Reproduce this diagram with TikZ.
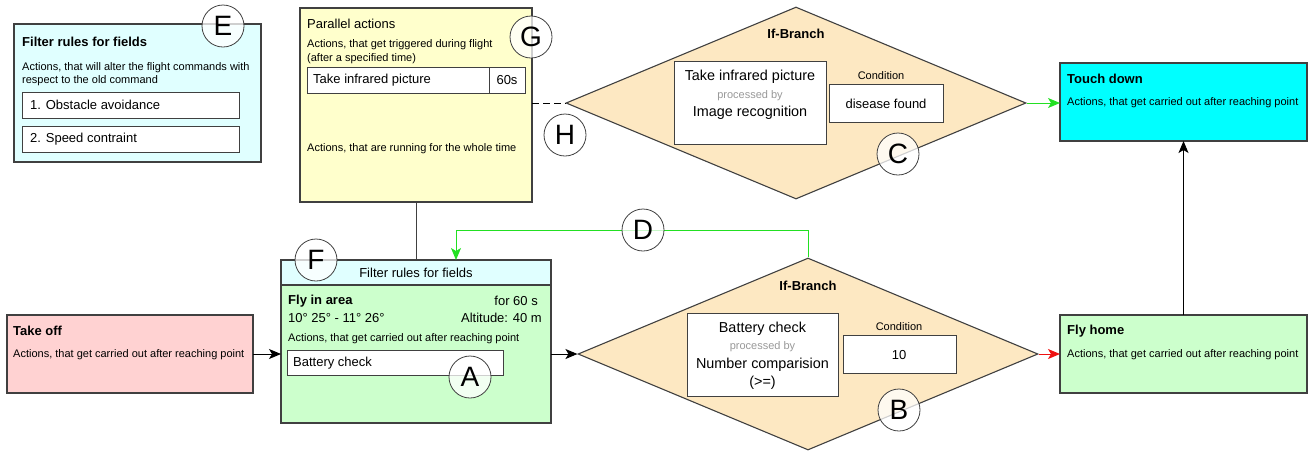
\documentclass[tikz,border=0pt]{standalone}
\usepackage{fontspec}
\setmainfont{Liberation Sans}
\usetikzlibrary{arrows.meta,shapes.geometric}
\definecolor{bcol}{HTML}{404040}
\definecolor{ecyan}{HTML}{E0FFFF}
\definecolor{gyellow}{HTML}{FFFFCC}
\definecolor{dfill}{HTML}{FDE8C2}
\definecolor{tcyan}{HTML}{00FFFF}
\definecolor{lgreen}{HTML}{CCFFCC}
\definecolor{lpink}{HTML}{FFD2D2}
\definecolor{agreen}{HTML}{22E022}
\definecolor{ared}{HTML}{EE1111}
\definecolor{procgray}{HTML}{999999}
\newcommand{\fsz}[1]{\fontsize{#1}{#1}\selectfont}
\tikzset{
  box/.style={draw=bcol, line width=1.1pt, anchor=north west, inner sep=0pt, outer sep=0pt},
  wbox/.style={box, fill=white, line width=1pt},
  txt/.style={anchor=west, inner sep=0pt, font=\fsz{11}},
  big/.style={inner sep=0pt, font=\fsz{13}},
  huge/.style={inner sep=0pt, font=\fsz{14.4}},
  ttl/.style={anchor=west, inner sep=0pt, font=\fsz{13}\bfseries},
  dia/.style={diamond, draw=bcol, line width=1.1pt, fill=dfill, minimum width=460pt, minimum height=192pt, inner sep=0pt},
  lettermark/.style={circle, draw=bcol, line width=0.8pt, fill=white, fill opacity=0.75, text opacity=1, minimum size=42pt, inner sep=0pt, font=\fsz{28}},
  arr/.style={line width=1pt, -{Stealth[length=12pt,width=10pt,inset=3pt]}},
}
\begin{document}
\begin{tikzpicture}[x=1pt,y=-1pt]
\useasboundingbox (0,0) rectangle (1313,451);
% ---- E box
\node[box, fill=ecyan, minimum width=247pt, minimum height=138pt] (ebox) at (14,24) {};
\node[ttl] (etitle) at (22,42) {Filter rules for fields};
\node[txt] (et1) at (22,68) {Actions, that will alter the flight commands with};
\node[txt] (et2) at (22,81) {respect to the old command};
\node[wbox, minimum width=217pt, minimum height=26pt] (eb1) at (22,92) {};
\node[big, anchor=west] (eb1t) at (30,105) {1. Obstacle avoidance};
\node[wbox, minimum width=217pt, minimum height=26pt] (eb2) at (22,126) {};
\node[big, anchor=west] (eb2t) at (30,139) {2. Speed contraint};
% ---- G box
\node[box, fill=gyellow, minimum width=232pt, minimum height=194pt] (gbox) at (300,8) {};
\node[big, anchor=west] (gtitle) at (307,24) {Parallel actions};
\node[txt] (gt1) at (307,45) {Actions, that get triggered during flight};
\node[txt] (gt2) at (307,59) {(after a specified time)};
\node[wbox, minimum width=218pt, minimum height=26pt] (tip) at (307,67) {};
\draw[bcol, line width=1pt] (489,67) -- (489,93);
\node[big, anchor=west] (tipt) at (313,80) {Take infrared picture};
\node[big] (tips) at (507,80) {60s};
\node[txt] (gt3) at (307,149) {Actions, that are running for the whole time};
% ---- top diamond
\node[dia] (dtop) at (796,103) {};
\node[inner sep=0pt, font=\fsz{13}\bfseries] (dtopt) at (796,34) {If-Branch};
\node[wbox, minimum width=152pt, minimum height=83pt] (dtopin) at (674,61) {};
\node[huge] (dt1) at (750,77) {Take infrared picture};
\node[inner sep=0pt, font=\fsz{11}, text=procgray] (dt2) at (750,96) {processed by};
\node[huge] (dt3) at (750,113) {Image recognition};
\node[inner sep=0pt, font=\fsz{11}] (dtc) at (881,76) {Condition};
\node[wbox, minimum width=114pt, minimum height=38pt] (dtcb) at (829,84) {};
\node[big] (dtcv) at (886,104) {disease found};
% ---- Touch down
\node[box, fill=tcyan, minimum width=247pt, minimum height=78pt] (touch) at (1060,63) {};
\node[ttl] (toucht) at (1067,79) {Touch down};
\node[txt] (touchx) at (1067,103) {Actions, that get carried out after reaching point};
% ---- Fly home
\node[box, fill=lgreen, minimum width=247pt, minimum height=78pt] (home) at (1060,315) {};
\node[ttl] (homet) at (1067,331) {Fly home};
\node[txt] (homex) at (1067,355) {Actions, that get carried out after reaching point};
% ---- Take off
\node[box, fill=lpink, minimum width=246pt, minimum height=78pt] (takeoff) at (7,315) {};
\node[ttl] (takeofft) at (13,331) {Take off};
\node[txt] (takeoffx) at (13,355) {Actions, that get carried out after reaching point};
% ---- F box
\node[box, fill=lgreen, minimum width=270pt, minimum height=163pt] (fbox) at (281,260) {};
\node[box, fill=ecyan, minimum width=270pt, minimum height=25pt] (fhead) at (281,260) {};
\node[big] (fheadt) at (416,273) {Filter rules for fields};
\node[ttl] (fly) at (288,301) {Fly in area};
\node[big, anchor=east] (for60) at (538,301) {for 60 s};
\node[big, anchor=west] (coord) at (288,318) {10° 25° - 11° 26°};
\node[big, anchor=east] (alt) at (542,318) {Altitude: 40 m};
\node[txt] (fx) at (288,339) {Actions, that get carried out after reaching point};
\node[wbox, minimum width=216pt, minimum height=25pt] (batt) at (287,350) {};
\node[big, anchor=west] (battt) at (293,363) {Battery check};
% ---- bottom diamond
\node[dia] (dbot) at (808,354) {};
\node[inner sep=0pt, font=\fsz{13}\bfseries] (dbott) at (808,286) {If-Branch};
\node[wbox, minimum width=151pt, minimum height=83pt] (dbotin) at (687,313) {};
\node[huge] (db1) at (762.5,329) {Battery check};
\node[inner sep=0pt, font=\fsz{11}, text=procgray] (db2) at (762.5,347) {processed by};
\node[huge] (db3) at (762.5,365) {Number comparision};
\node[huge] (db4) at (762.5,383) {(>=)};
\node[inner sep=0pt, font=\fsz{11}] (dbc) at (899,327) {Condition};
\node[wbox, minimum width=113pt, minimum height=38pt] (dbcb) at (843,335) {};
\node[big] (dbcv) at (899,355) {10};
% ---- connectors
\coordinate (gf) at (416,202);
\draw[bcol, line width=1pt] (gf) -- (gf |- fbox.north);
\draw[line width=1pt, dash pattern=on 7pt off 4pt] (gbox.east |- dtop.west) -- (dtop.west);
\draw[arr, agreen] (dtop.east) -- (dtop.east -| touch.west);
\draw[arr] (home.north) -- (touch.south);
\draw[arr, ared] (dbot.east) -- (dbot.east -| home.west);
\draw[arr] (takeoff.east |- dbot.west) -- (fbox.west |- dbot.west);
\draw[arr] (fbox.east |- dbot.west) -- (dbot.west);
\coordinate (gtop) at (808,230);
\coordinate (gleft) at (456,230);
\draw[arr, agreen] (dbot.north) -- (gtop) -- (gleft) -- (gleft |- fbox.north);
% ---- marks
\node[lettermark] (mE) at (223,26) {E};
\node[lettermark] (mG) at (531,37) {G};
\node[lettermark] (mH) at (565,135) {H};
\node[lettermark] (mC) at (898,154) {C};
\node[lettermark] (mD) at (643,230) {D};
\node[lettermark] (mF) at (316,260) {F};
\node[lettermark] (mA) at (470,377) {A};
\node[lettermark] (mB) at (899,410) {B};
\end{tikzpicture}
\end{document}
